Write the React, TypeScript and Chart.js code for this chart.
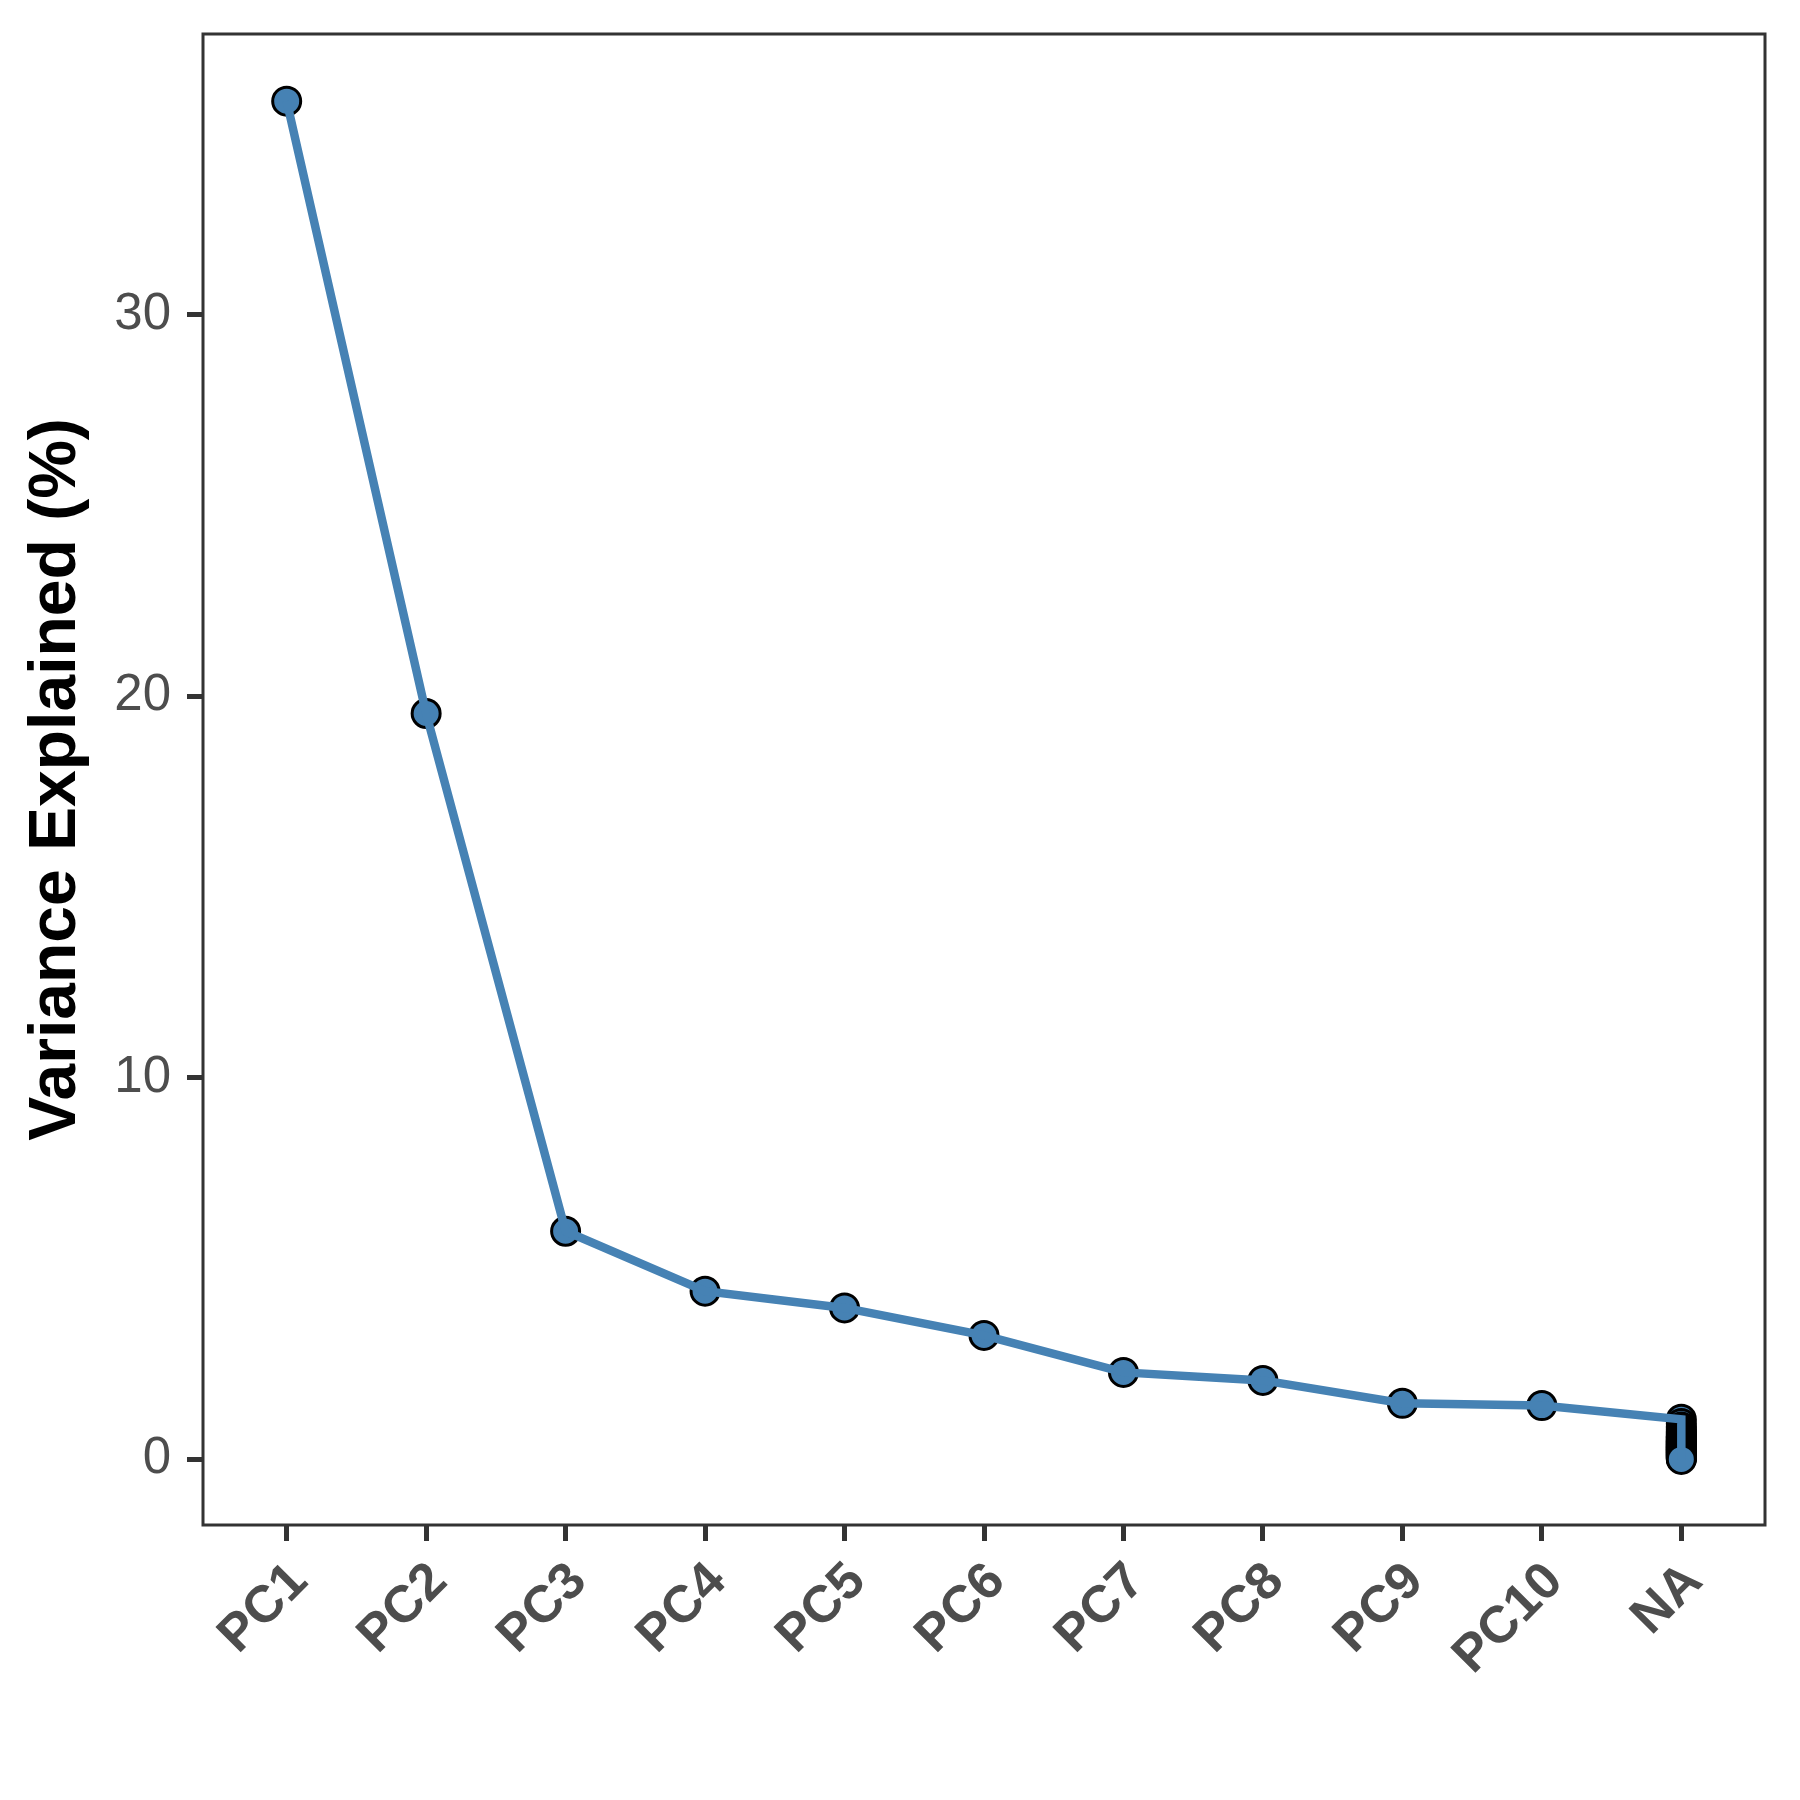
import React, { useEffect, useRef } from "react";
import { Chart, registerables } from "chart.js";

Chart.register(...registerables);

const categories = ["PC1", "PC2", "PC3", "PC4", "PC5", "PC6", "PC7", "PC8", "PC9", "PC10", "NA"];
const mainValues = [35.6, 19.55, 5.98, 4.41, 3.97, 3.25, 2.28, 2.07, 1.47, 1.41];
const naValues = [
  1.05, 0.94, 0.85, 0.78, 0.73, 0.69, 0.66, 0.63, 0.6, 0.58, 0.56, 0.54, 0.52, 0.5, 0.48, 0.47,
  0.45, 0.44, 0.42, 0.41, 0.39, 0.38, 0.36, 0.35, 0.34, 0.32, 0.31, 0.3, 0.28, 0.27, 0.26, 0.24,
  0.23, 0.22, 0.2, 0.19, 0.18, 0.16, 0.15, 0.13, 0.12, 0.1, 0.09, 0.07, 0.05, 0.04, 0.02, 0.0,
];
const yTicks = [0, 10, 20, 30];
const yTitle = "Variance Explained (%)";

const FONT = "'Liberation Sans', Arial, Helvetica, sans-serif";
const STEEL = "#4682B4";
const AXIS = "#333333";
const TEXT = "#4D4D4D";
const X_LABEL_SHIFT = 13;

export default function App() {
  const ref = useRef<HTMLCanvasElement | null>(null);

  useEffect(() => {
    if (!ref.current) return;
    const naX = categories.length;
    const points = [
      ...mainValues.map((v, i) => ({ x: i + 1, y: v })),
      ...naValues.map((v) => ({ x: naX, y: v })),
    ];

    const panelBorder = {
      id: "panelBorder",
      afterDraw(chart: any) {
        const { ctx, chartArea } = chart;
        ctx.save();
        ctx.strokeStyle = AXIS;
        ctx.lineWidth = 3;
        ctx.strokeRect(chartArea.left, chartArea.top, chartArea.right - chartArea.left, chartArea.bottom - chartArea.top);
        ctx.restore();
      },
    };

    const chart = new Chart(ref.current, {
      type: "scatter",
      data: {
        datasets: [
          {
            type: "line",
            data: points,
            showLine: true,
            borderColor: STEEL,
            borderWidth: 8.5,
            borderJoinStyle: "miter",
            pointRadius: 0,
            pointHoverRadius: 0,
            fill: false,
            order: 0,
          } as any,
          {
            type: "scatter",
            data: points,
            showLine: false,
            pointRadius: 14,
            pointBorderWidth: 3,
            pointBackgroundColor: STEEL,
            pointBorderColor: "#000000",
            order: 1,
          } as any,
        ],
      },
      options: {
        responsive: false,
        animation: false,
        devicePixelRatio: 1,
        layout: { padding: { top: 34, right: 35, left: 0, bottom: 0 } },
        plugins: { legend: { display: false }, tooltip: { enabled: false } },
        scales: {
          x: {
            type: "linear",
            min: 0.4,
            max: categories.length + 0.6,
            afterBuildTicks: (scale: any) => {
              scale.ticks = categories.map((_, i) => ({ value: i + 1 }));
            },
            afterFit: (scale: any) => {
              scale.height = 275;
              scale.paddingLeft = 0;
              scale.paddingRight = 0;
              if (!scale.__shifted) {
                const orig = scale._computeLabelItems;
                scale._computeLabelItems = function (area: any) {
                  const items = orig.call(this, area);
                  items.forEach((it: any) => {
                    if (it.options && it.options.translation) it.options.translation[0] += X_LABEL_SHIFT;
                  });
                  return items;
                };
                scale.__shifted = true;
              }
            },
            border: { display: false },
            grid: {
              drawOnChartArea: false,
              drawTicks: true,
              tickLength: 16,
              lineWidth: 5,
              color: AXIS,
            },
            ticks: {
              autoSkip: false,
              minRotation: 45,
              maxRotation: 45,
              padding: 10,
              color: TEXT,
              font: { family: FONT, size: 52, weight: "bold" },
              callback: (v: any) => categories[Math.round(Number(v)) - 1] ?? "",
            },
          },
          y: {
            type: "linear",
            min: -1.72,
            max: 37.36,
            afterBuildTicks: (scale: any) => {
              scale.ticks = yTicks.map((v) => ({ value: v }));
            },
            afterFit: (scale: any) => {
              scale.width = 203;
              scale.paddingTop = 0;
              scale.paddingBottom = 0;
            },
            border: { display: false },
            grid: {
              drawOnChartArea: false,
              drawTicks: true,
              tickLength: 16,
              lineWidth: 5,
              color: AXIS,
            },
            ticks: {
              padding: 16,
              color: TEXT,
              font: { family: FONT, size: 51 },
            },
            title: {
              display: true,
              text: yTitle,
              color: "#000000",
              padding: { top: 17.5, bottom: 0 },
              font: { family: FONT, size: 66, weight: "bold" },
            },
          },
        },
      },
      plugins: [panelBorder],
    });
    return () => chart.destroy();
  }, []);

  return (
    <div style={{ position: "absolute", left: 0, top: 0, width: 1800, height: 1800, background: "#fff" }}>
      <canvas ref={ref} width={1800} height={1800} style={{ width: 1800, height: 1800, display: "block" }} />
    </div>
  );
}
